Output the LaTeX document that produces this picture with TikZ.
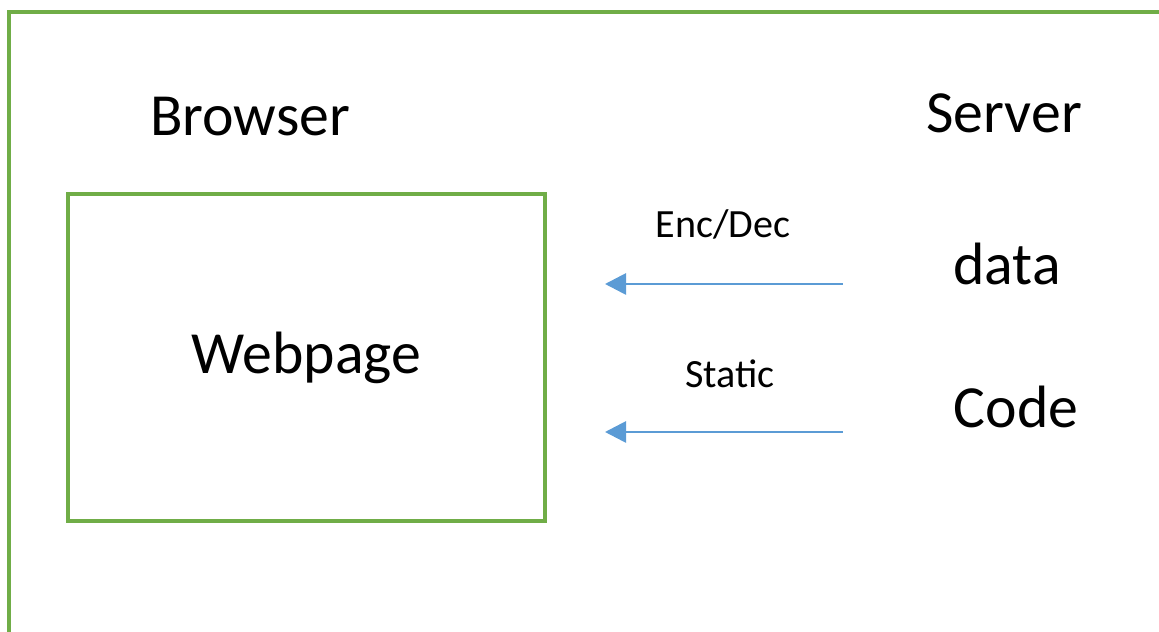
\documentclass[tikz,border=0pt]{standalone}
\usepackage{fontspec}
\setmainfont{Carlito}
\usepackage{tikz}
\usetikzlibrary{arrows.meta,positioning}
\usepackage{xcolor}
\definecolor{offgreen}{RGB}{112,173,71}
\definecolor{offblue}{RGB}{91,155,213}
\tikzstyle{frame} = [line width=1.05pt,draw=offgreen]
\tikzstyle{pagebox} = [frame,minimum width=4.77cm,minimum height=3.27cm,inner sep=0pt,font=\fontsize{17}{20}\selectfont]
\tikzstyle{title} = [anchor=base,font=\fontsize{17}{20}\selectfont]
\tikzstyle{tag} = [anchor=base,font=\fontsize{11.4}{14}\selectfont]
\tikzstyle{flow} = [line width=0.8pt,draw=offblue,-{Triangle[length=6pt,width=6pt]}]

\begin{document}
\begin{tikzpicture}
\useasboundingbox (0,0) rectangle (11.59,6.32);
\clip (0,0) rectangle (11.59,6.32);
% Outer frame, cut off at right and bottom
\draw[frame] (0.09,-0.5) -- (0.09,6.20) -- (12,6.20);

% Browser side
\node[title] (browser) at (2.50,4.96) {Browser};
\node[pagebox] (webpage) at (3.065,2.745) {Webpage};

% Server side
\node[title] (server) at (10.04,4.99) {Server};
\node[title] (data) at (10.07,3.47) {data};
\node[title] (code) at (10.16,2.04) {Code};

% Transfers
\coordinate (encfrom) at (8.43,3.48);
\coordinate (encto) at (6.05,3.48);
\coordinate (statfrom) at (8.43,2.00);
\coordinate (statto) at (6.05,2.00);
\draw[flow] (encfrom) -- (encto);
\draw[flow] (statfrom) -- (statto);
\node[tag] (enc) at (7.23,3.94) {Enc/Dec};
\node[tag] (static) at (7.30,2.44) {Static};
\end{tikzpicture}
\end{document}
